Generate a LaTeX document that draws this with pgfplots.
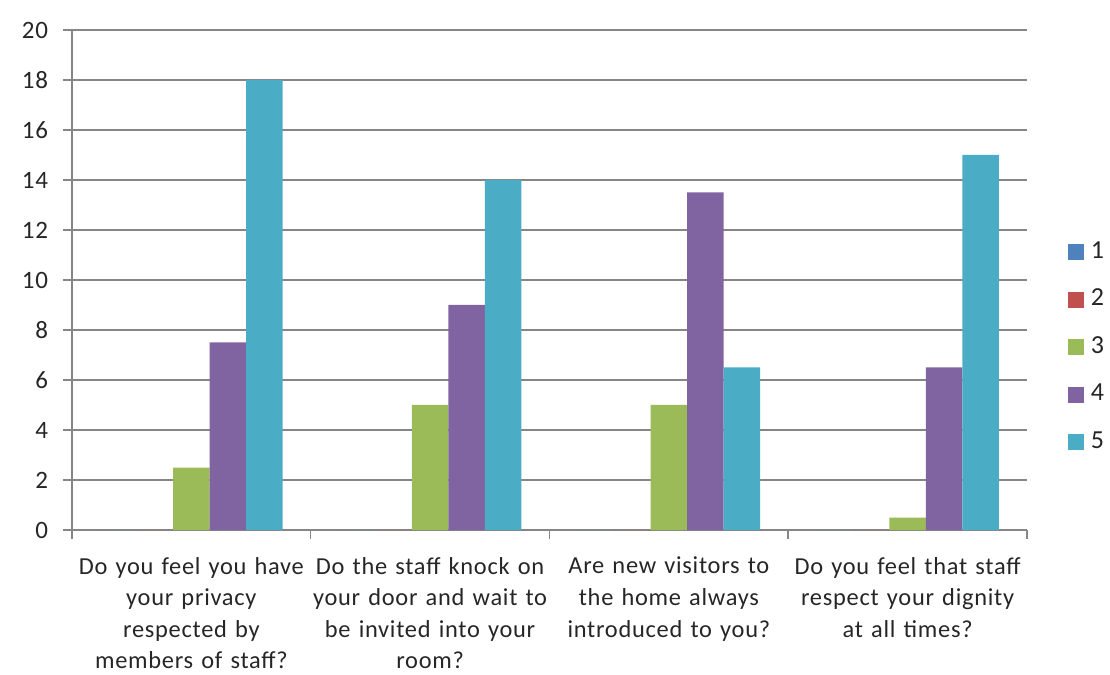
\documentclass[border=0pt]{standalone}
\usepackage{pgfplots}
\pgfplotsset{compat=1.18}
\usepackage{fontspec}
\setmainfont[LetterSpace=3]{Carlito}
\definecolor{s1}{HTML}{4F81BD}
\definecolor{s2}{HTML}{C0504D}
\definecolor{s3}{HTML}{9BBB59}
\definecolor{s4}{HTML}{8064A2}
\definecolor{s5}{HTML}{4BACC6}
\definecolor{gridc}{HTML}{868686}
\definecolor{txt}{HTML}{262626}
\begin{document}
\begin{tikzpicture}
\useasboundingbox (-36pt,-72.5pt) rectangle (519pt,265pt);
\begin{axis}[
  scale only axis,
  width=477.5pt, height=250pt,
  xmin=-0.5, xmax=3.5, ymin=0, ymax=20,
  ytick={0,2,...,20},
  xtick={0,1,2,3},
  xticklabels={
    {Do you feel you have\\your privacy\\respected by\\members of staff?},
    {Do the staff knock on\\your door and wait to\\be invited into your\\room?},
    {Are new visitors to\\the home always\\introduced to you?},
    {Do you feel that staff\\respect your dignity\\at all times?}},
  minor xtick={-0.5,0.5,1.5,2.5,3.5},
  major x tick style={draw=none},
  minor tick length=4.5pt,
  major tick length=4.5pt,
  tick align=outside,
  axis x line*=bottom, axis y line*=left,
  axis line style={gridc, line width=0.75pt, -},
  tick style={gridc, line width=0.75pt},
  ymajorgrids,
  grid style={gridc, line width=0.75pt},
  /pgf/number format/assume math mode=true,
  every tick label/.append style={font=\fontsize{12.5}{15.8}\selectfont, text=txt},
  xticklabel style={text width=125pt, align=center, yshift=-5.5pt,
    font=\fontsize{12.2}{15.8}\selectfont},
  yticklabel style={xshift=-4pt},
  ybar, bar width=0.153,
  legend style={draw=none, at={(axis description cs:1.036,0.365)}, anchor=west,
    font=\fontsize{13}{15}\selectfont, text=txt,
    nodes={inner sep=0pt, text height=9pt, text depth=3pt},
    column sep=3.5pt,
    row sep=11.75pt, legend cell align=left},
  legend image code/.code={\fill[#1] (0pt,-4pt) rectangle (8pt,4pt);},
]
\addplot[fill=s1, draw=none, bar shift=-0.306] coordinates {(0,0) (1,0) (2,0) (3,0)};
\addplot[fill=s2, draw=none, bar shift=-0.153] coordinates {(0,0) (1,0) (2,0) (3,0)};
\addplot[fill=s3, draw=none, bar shift=0] coordinates {(0,2.5) (1,5) (2,5) (3,0.5)};
\addplot[fill=s4, draw=none, bar shift=0.153] coordinates {(0,7.5) (1,9) (2,13.5) (3,6.5)};
\addplot[fill=s5, draw=none, bar shift=0.306] coordinates {(0,18) (1,14) (2,6.5) (3,15)};
\legend{1,2,3,4,5}
\end{axis}
\end{tikzpicture}
\end{document}
